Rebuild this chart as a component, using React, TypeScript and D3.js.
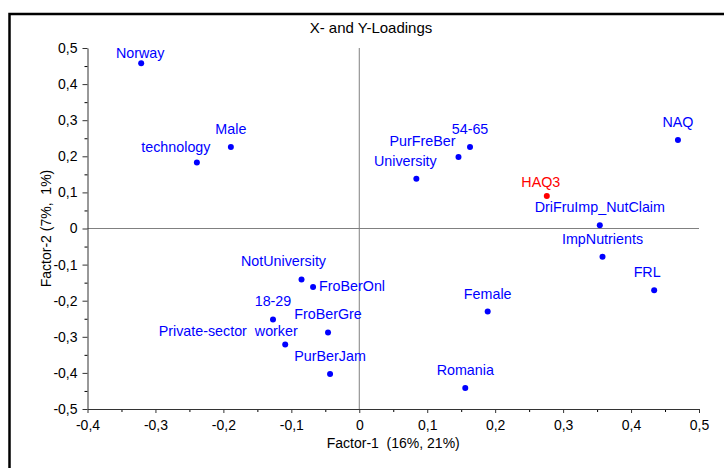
import React, { useRef, useEffect } from 'react';
import * as d3 from 'd3';

// point names and their loadings on the two factors
const names = [
  'Norway', 'Male', 'technology', '54-65', 'PurFreBer', 'University', 'NAQ', 'HAQ3',
  'DriFruImp_NutClaim', 'ImpNutrients', 'FRL', 'Female', 'Romania', 'NotUniversity',
  'FroBerOnl', '18-29', 'FroBerGre', 'Private-sector  worker', 'PurBerJam',
];
const factor1 = [
  -0.321, -0.189, -0.239, 0.163, 0.146, 0.084, 0.469, 0.276,
  0.354, 0.358, 0.434, 0.189, 0.156, -0.085,
  -0.068, -0.127, -0.046, -0.109, -0.043,
];
const factor2 = [
  0.458, 0.226, 0.183, 0.226, 0.198, 0.138, 0.245, 0.090,
  0.009, -0.078, -0.171, -0.230, -0.442, -0.141,
  -0.162, -0.252, -0.288, -0.321, -0.403,
];
// Y variables are drawn in red, X variables in blue
const yVariables = ['HAQ3'];

const xTicks = [-0.4, -0.3, -0.2, -0.1, 0, 0.1, 0.2, 0.3, 0.4, 0.5];
const yTicks = [-0.5, -0.4, -0.3, -0.2, -0.1, 0, 0.1, 0.2, 0.3, 0.4, 0.5];

// label placement tweaks (label moved off the default "centered above the dot")
const labelNudge: Record<string, { dx: number; dy: number; anchor?: string }> = {
  'Norway': { dx: -1, dy: -5 },
  'technology': { dx: -21, dy: -10 },
  'PurFreBer': { dx: -36, dy: -11 },
  'University': { dx: -11, dy: -13 },
  'HAQ3': { dx: -6, dy: -9 },
  'FRL': { dx: -7, dy: -13 },
  'NotUniversity': { dx: -18, dy: -13 },
  'FroBerOnl': { dx: 6, dy: 4, anchor: 'start' },
  'Private-sector  worker': { dx: -57, dy: -8 },
};

const fmt = (d: number) => (Math.round(d * 10) / 10).toString().replace('.', ',');

const App: React.FC = () => {
  const svgRef = useRef<SVGSVGElement>(null);

  useEffect(() => {
    const svg = d3.select(svgRef.current);
    svg.selectAll('*').remove();

    const width = 724;
    const height = 468;
    const font = '"Liberation Sans", Arial, sans-serif';

    const x = d3.scaleLinear().domain([-0.4, 0.5]).range([87.5, 699]);
    const y = d3.scaleLinear().domain([-0.5, 0.5]).range([409, 48]);

    svg.append('rect').attr('width', width).attr('height', height).attr('fill', '#fff');

    // outer frame (only left and top edges are visible)
    svg.append('path')
      .attr('d', `M9.5,${height + 5} V14 H${width + 5}`)
      .attr('fill', 'none')
      .attr('stroke', '#000')
      .attr('stroke-width', 2.5);

    svg.append('text')
      .attr('x', 371).attr('y', 33)
      .attr('text-anchor', 'middle')
      .attr('font-family', font).attr('font-size', 15)
      .text('X- and Y-Loadings');

    // zero reference lines
    svg.append('line')
      .attr('x1', x(0)).attr('x2', x(0)).attr('y1', y(0.5)).attr('y2', y(-0.5))
      .attr('stroke', '#808080');
    svg.append('line')
      .attr('x1', x(-0.4)).attr('x2', x(0.5)).attr('y1', y(0)).attr('y2', y(0))
      .attr('stroke', '#808080');

    // minor ticks
    const xMinor = xTicks.slice(0, -1).map(d => d + 0.05);
    const yMinor = yTicks.slice(0, -1).map(d => d + 0.05);
    svg.append('g')
      .attr('transform', `translate(0,${y(-0.5)})`)
      .call(d3.axisBottom(x).tickValues(xMinor).tickSize(3).tickFormat(() => '').tickSizeOuter(0))
      .call(g => g.select('.domain').remove());
    svg.append('g')
      .attr('transform', `translate(${x(-0.4)},0)`)
      .call(d3.axisLeft(y).tickValues(yMinor).tickSize(3).tickFormat(() => '').tickSizeOuter(0))
      .call(g => g.select('.domain').remove());

    // axes
    const xAxis = svg.append('g')
      .attr('transform', `translate(0,${y(-0.5)})`)
      .call(d3.axisBottom(x).tickValues(xTicks).tickSize(4).tickPadding(7).tickFormat(d => fmt(+d)).tickSizeOuter(0));
    const yAxis = svg.append('g')
      .attr('transform', `translate(${x(-0.4)},0)`)
      .call(d3.axisLeft(y).tickValues(yTicks).tickSize(5).tickPadding(5).tickFormat(d => fmt(+d)).tickSizeOuter(0));
    [xAxis, yAxis].forEach(g => {
      g.attr('font-family', font).attr('font-size', 14);
      g.selectAll('text').attr('fill', '#000');
      g.selectAll('line, path').attr('stroke', '#333');
    });

    svg.append('text')
      .attr('x', (x(-0.4) + x(0.5)) / 2).attr('y', 448)
      .attr('text-anchor', 'middle')
      .attr('font-family', font).attr('font-size', 14)
      .style('white-space', 'pre')
      .text('Factor-1  (16%, 21%)');
    svg.append('text')
      .attr('transform', `translate(51,${y(0)}) rotate(-90)`)
      .attr('text-anchor', 'middle')
      .attr('font-family', font).attr('font-size', 14)
      .style('white-space', 'pre')
      .text('Factor-2 (7%,  1%)');

    const points = names.map((name, i) => ({ name, f1: factor1[i], f2: factor2[i] }));
    const colour = (n: string) => (yVariables.includes(n) ? '#ff0000' : '#0000ff');

    svg.append('g')
      .selectAll('circle')
      .data(points)
      .join('circle')
      .attr('cx', d => x(d.f1))
      .attr('cy', d => y(d.f2))
      .attr('r', 3)
      .attr('fill', d => colour(d.name));

    svg.append('g')
      .attr('font-family', font).attr('font-size', 14.3)
      .selectAll('text')
      .data(points)
      .join('text')
      .attr('x', d => x(d.f1) + (labelNudge[d.name]?.dx ?? 0))
      .attr('y', d => y(d.f2) + (labelNudge[d.name]?.dy ?? -13))
      .attr('text-anchor', d => labelNudge[d.name]?.anchor ?? 'middle')
      .attr('fill', d => colour(d.name))
      .style('white-space', 'pre')
      .text(d => d.name);
  }, []);

  return (
    <svg ref={svgRef} width="724" height="468"
      style={{ position: 'absolute', left: 0, top: 0, display: 'block' }} />
  );
};

export default App;
